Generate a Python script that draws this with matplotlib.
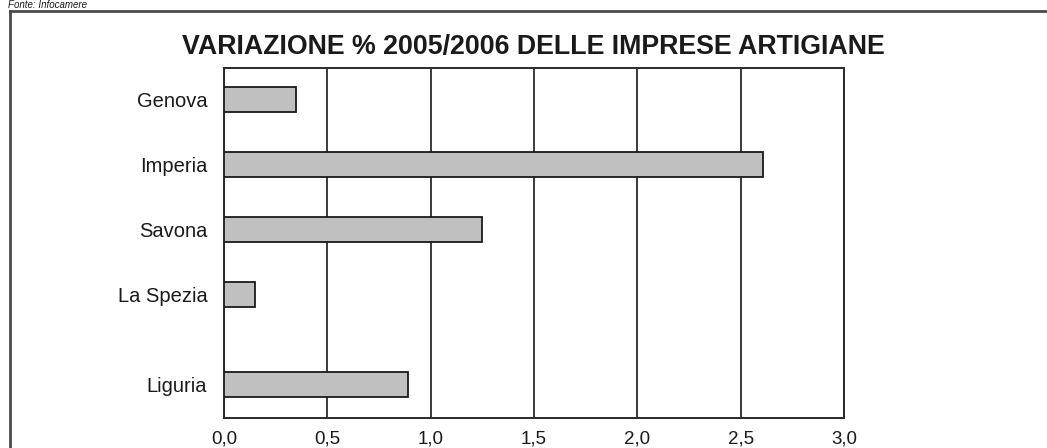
import matplotlib
matplotlib.use("Agg")
import matplotlib.pyplot as plt
from matplotlib.lines import Line2D

plt.rcParams['font.family'] = ['Liberation Sans', 'DejaVu Sans']

categories = ["Genova", "Imperia", "Savona", "La Spezia", "Liguria"]
values = [0.35, 2.61, 1.25, 0.15, 0.89]
x_ticks = [0.0, 0.5, 1.0, 1.5, 2.0, 2.5, 3.0]
x_tick_labels = ["0,0", "0,5", "1,0", "1,5", "2,0", "2,5", "3,0"]
title = "VARIAZIONE % 2005/2006 DELLE IMPRESE ARTIGIANE"
source = "Fonte: Infocamere"

# layout (row positions; Liguria set apart from provinces)
y_pos = [0, 1, 2, 3, 4.39]

fig = plt.figure(figsize=(10.47, 4.48), dpi=100)
ax = fig.add_axes([224/1047, 1-418/448, (844-224)/1047, (418-68)/448])

ax.barh(y_pos, values, height=0.385, color="#c0c0c0", edgecolor="#1a1a1a",
        linewidth=1.3, zorder=3)
ax.set_xlim(0, 3.0)
ax.set_ylim(4.905, -0.477)
ax.set_xticks(x_ticks)
ax.set_xticklabels(x_tick_labels, fontsize=13.5)
ax.set_yticks(y_pos)
ax.set_yticklabels(categories, fontsize=14.5)
ax.tick_params(axis='both', length=0, colors="#1a1a1a")
ax.tick_params(axis='x', pad=9)
ax.tick_params(axis='y', pad=12)
ax.xaxis.grid(True, color="#3a3a3a", linewidth=1.4, zorder=1)
ax.set_axisbelow(True)
for s in ax.spines.values():
    s.set_color("#2a2a2a")
    s.set_linewidth(1.4)

fig.text(533/1047, 1-47/448, title, ha="center", va="center",
         fontsize=19.3, fontweight="bold", color="#1a1a1a")
fig.text(8/1047, 1-0.5/448, source, ha="left", va="top",
         fontsize=7, style="italic", color="#1a1a1a")

# outer frame (top and left edges)
fig.add_artist(Line2D([10/1047, 1.0], [1-11.5/448, 1-11.5/448],
                      transform=fig.transFigure, color="#4a4a4a", linewidth=2))
fig.add_artist(Line2D([10/1047, 10/1047], [0, 1-11.5/448],
                      transform=fig.transFigure, color="#4a4a4a", linewidth=2))

fig.savefig("out.png", dpi=100)
